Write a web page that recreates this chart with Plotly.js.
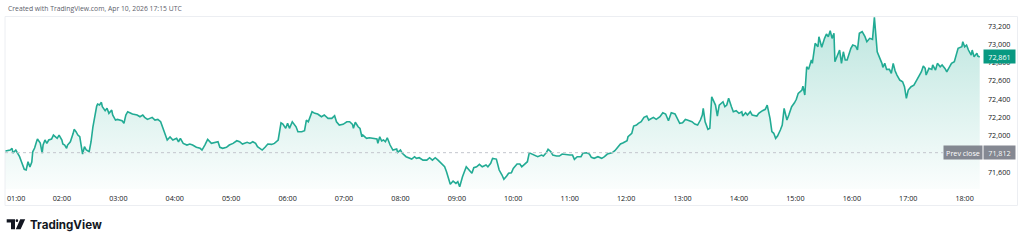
<!DOCTYPE html>
<html>
<head>
<meta charset="utf-8">
<script src="https://cdn.plot.ly/plotly-3.0.1.min.js"></script>
<style>
html,body{margin:0;padding:0;background:#fff;}
#chart{width:1024px;height:242px;}
</style>
</head>
<body>
<div id="chart"></div>
<script>
// ---- Data (minute of day, price) ----
const minuteOfDay = [
60,65,67,68,71,73,75,77,80,82,84,86,88,89,91,93,94,97,99,100,
102,104,106,109,111,115,117,120,121,123,125,126,129,132,133,135,137,139,141,142,
144,146,149,151,153,155,157,158,160,162,163,166,168,170,173,174,177,179,184,186,
188,190,193,195,200,203,206,208,211,216,219,222,225,227,229,232,
235,238,242,244,246,249,253,256,259,263,267,269,272,275,279,283,286,288,291,295,
298,302,306,309,312,317,320,323,326,328,333,336,339,343,346,350,351,353,355,358,
360,362,365,369,371,375,378,380,382,386,389,392,396,399,403,407,
410,412,415,419,423,426,429,430,432,435,437,439,440,444,447,451,455,456,458,460,
462,464,466,469,472,476,477,480,482,486,488,492,495,497,500,504,508,511,514,517,
520,524,527,529,531,533,536,539,541,543,546,548,550,553,556,558,561,564,567,571,
573,576,578,582,
585,588,590,593,595,598,600,604,607,609,612,615,617,620,623,626,630,632,635,637,
640,642,646,649,652,657,660,663,665,668,672,674,678,681,683,686,690,694,697,700,
705,708,711,714,717,721,722,724,726,728,731,733,736,739,742,744,747,749,752,
756,759,762,765,768,772,774,777,780,783,785,790,793,796,799,801,802,804,807,809,
811,813,815,817,819,823,825,827,829,832,834,837,840,843,844,847,849,852,854,859,
861,865,868,870,873,875,877,879,881,884,886,888,891,893,896,899,
901,903,907,908,910,912,914,917,918,921,924,925,928,931,933,935,937,939,941,942,
944,947,949,951,953,955,959,961,964,966,968,971,974,976,979,982,984,986,987,992,
993,995,997,1000,1002,1004,1006,1008,1011,1014,1016,1018,1020,1023,1026,1029,1031,1034,1036,1038,
1039,1042,1045,1046,1049,1051,1054,1056,1059,1061,1063,1066,1069,1071,1073,1077,1078,1080,1082,1084,
1087,1088,1090,1093,1094,1096
];
const price = [
71830,71841,71860,71808,71841,71808,71768,71713,71630,71622,71713,71655,71710,71822,71863,71932,71962,71918,71808,71896,
71951,71914,71951,71962,72005,71969,72005,71951,71907,71896,71860,71896,71932,72024,72068,72042,72005,71987,71877,71797,
71877,71841,71822,71932,72096,72225,72323,72345,72334,72364,72316,72272,72298,72243,72279,72225,72170,72177,72162,72134,
72225,72261,72243,72236,72225,72206,72225,72199,72177,72199,72170,72177,72151,72096,72024,71951,
71984,71951,71969,71932,71969,71914,71896,71907,71896,71871,71860,71841,71896,71958,71914,71921,71932,71871,71860,71871,
71896,71914,71943,71932,71907,71925,71914,71932,71914,71877,71841,71871,71907,71903,71914,71951,72024,72140,72126,72079,
72134,72079,72151,72096,72042,72042,72053,72170,72151,72261,72243,72236,72206,72225,72188,72188,
72217,72151,72115,72123,72151,72151,72123,72079,72145,72096,72079,71987,72005,71969,71976,71969,71962,71914,71987,71940,
71951,71932,71976,71896,71841,71852,71816,71841,71805,71768,71757,71742,71768,71750,71757,71731,71731,71757,71731,71757,
71731,71695,71658,71603,71531,71465,71501,71476,71494,71439,71548,71597,71658,71622,71586,71647,71658,71684,71658,71677,
71658,71695,71750,71742,
71622,71567,71520,71556,71586,71592,71640,71688,71688,71658,71688,71713,71811,71797,71775,71768,71786,71775,71811,71849,
71822,71786,71775,71775,71797,71786,71786,71786,71739,71768,71768,71805,71811,71797,71761,71750,71768,71750,71768,71797,
71811,71833,71877,71907,71921,71943,71987,72005,72024,72104,72115,72134,72151,72199,72214,72170,72188,72199,72177,
72206,72250,72236,72162,72250,72236,72199,72134,72140,72177,72170,72151,72126,72115,72170,72225,72298,72151,72068,72079,
72425,72370,72334,72214,72334,72370,72316,72334,72408,72316,72261,72272,72243,72261,72214,72250,72225,72261,72225,72214,
72243,72272,72287,72334,72188,72042,72024,71969,71994,72060,72115,72298,72170,72225,72316,72359,
72397,72462,72499,72542,72444,72754,72725,72827,72791,73010,72973,73083,72967,73065,73112,73083,73148,73065,73120,72809,
72864,72937,72791,72918,72827,72827,72956,72992,72981,72937,73120,73138,73083,73028,73065,73054,73295,73047,72918,72791,
72747,72791,72725,72725,72682,72791,72710,72663,72608,72590,72535,72408,72499,72535,72553,72608,72644,72699,72762,72736,
72663,72736,72725,72773,72718,72791,72754,72773,72736,72699,72736,72791,72809,72882,72956,72973,73028,72973,72992,72937,
72882,72937,72864,72901,72871,72861
];
const prevClose = 71812;
const lastPrice = 72861;
const xTickVals = [60,120,180,240,300,360,420,480,540,600,660,720,780,840,900,960,1020,1080];
const xTickText = ["01:00","02:00","03:00","04:00","05:00","06:00","07:00","08:00","09:00","10:00","11:00","12:00","13:00","14:00","15:00","16:00","17:00","18:00"];
const yTickVals = [71600,71800,72000,72200,72400,72600,72800,73000,73200];
const headerText = "Created with TradingView.com, Apr 10, 2026 17:15 UTC";
const brandText = "TradingView";

// ---- Layout helpers (pixel -> paper) ----
const L = 5, R = 44, T = 16, B = 53;
const PW = 1024 - L - R, PH = 242 - T - B;
const px = x => (x - L) / PW;
const py = y => (242 - B - y) / PH;

const fmt = v => v.toLocaleString('en-US');
const green = '#089981';
const lineGreen = '#22ab94';
const textDark = '#131722';
const tickFont = {family: 'Open Sans, sans-serif', size: 7.2, color: textDark};

const trace = {
  x: minuteOfDay, y: price, type: 'scatter', mode: 'lines',
  line: {color: lineGreen, width: 1.6},
  fill: 'tozeroy',
  fillgradient: {type: 'vertical', start: 71414, stop: 73300,
    colorscale: [[0, 'rgba(34,171,148,0.02)'], [1, 'rgba(34,171,148,0.3)']]},
  hoverinfo: 'skip'
};

function logoPath() {
  const P = (x, y) => px(x).toFixed(5) + ',' + py(y).toFixed(5);
  return 'M' + P(6.7, 219.3) + ' L' + P(15, 219.3) + ' L' + P(15, 229.3) + ' L' + P(11, 229.3) +
         ' L' + P(11, 222.5) + ' L' + P(6.7, 222.5) + ' Z' +
         ' M' + P(20.2, 219.3) + ' L' + P(25.2, 219.3) + ' L' + P(20.6, 229.3) + ' L' + P(15.8, 229.3) + ' Z';
}

const layout = {
  width: 1024, height: 242,
  margin: {l: L, r: R, t: T, b: B, pad: 0},
  paper_bgcolor: '#ffffff', plot_bgcolor: '#ffffff',
  showlegend: false,
  font: {family: 'Open Sans, sans-serif', color: textDark},
  xaxis: {
    range: [59.5, 1096.3], showgrid: false, zeroline: false, showline: false,
    ticks: '', tickvals: xTickVals.slice(1), ticktext: xTickText.slice(1),
    tickfont: tickFont, ticklabelstandoff: 4, fixedrange: true
  },
  yaxis: {
    range: [71414, 73310], side: 'right', showgrid: false, zeroline: false, showline: false,
    ticks: '', tickvals: yTickVals, ticktext: yTickVals.map(fmt),
    tickfont: tickFont, ticklabelstandoff: 7, fixedrange: true
  },
  shapes: [
    {type: 'rect', xref: 'paper', yref: 'paper', x0: px(5), x1: px(1017.5), y0: py(205.5), y1: py(16.5),
     line: {color: '#eceef2', width: 1}, fillcolor: 'rgba(0,0,0,0)', layer: 'below'},
    {type: 'line', xref: 'paper', yref: 'y', x0: 0, x1: px(943), y0: prevClose, y1: prevClose,
     line: {color: '#c3c6cd', width: 1, dash: 'dot'}},
    {type: 'path', xref: 'paper', yref: 'paper', path: logoPath(), fillcolor: textDark, line: {width: 0}},
    {type: 'circle', xref: 'paper', yref: 'paper', x0: px(15.6), x1: px(18.2), y0: py(222), y1: py(219.3),
     fillcolor: textDark, line: {width: 0}}
  ],
  annotations: [
    {text: headerText, xref: 'paper', yref: 'paper', x: px(6), y: py(8.5), xanchor: 'left', yanchor: 'middle',
     showarrow: false, font: {family: 'Open Sans, sans-serif', size: 6.8, color: '#5d606b'}},
    {text: xTickText[0], xref: 'x', yref: 'paper', x: xTickVals[0], y: py(198), xanchor: 'left', yanchor: 'middle',
     showarrow: false, font: tickFont},
    {text: '<b>' + brandText + '</b>', xref: 'paper', yref: 'paper', x: px(28), y: py(224.5), xanchor: 'left', yanchor: 'middle',
     showarrow: false, font: {family: 'Inter, sans-serif', size: 11.6, color: textDark}},
    {text: fmt(lastPrice), xref: 'paper', yref: 'y', x: px(999.5), y: lastPrice, xanchor: 'center', yanchor: 'middle',
     showarrow: false, bgcolor: green, borderpad: 1.5, width: 28,
     font: {family: 'Open Sans, sans-serif', size: 7.2, color: '#ffffff'}},
    {text: 'Prev close', xref: 'paper', yref: 'y', x: px(962.5), y: prevClose, xanchor: 'center', yanchor: 'middle',
     showarrow: false, bgcolor: 'rgba(120,123,134,0.9)', borderpad: 1.5, width: 35,
     font: {family: 'Open Sans, sans-serif', size: 7.2, color: '#ffffff'}},
    {text: fmt(prevClose), xref: 'paper', yref: 'y', x: px(999.5), y: prevClose, xanchor: 'center', yanchor: 'middle',
     showarrow: false, bgcolor: 'rgba(120,123,134,0.9)', borderpad: 1.5, width: 28,
     font: {family: 'Open Sans, sans-serif', size: 7.2, color: '#ffffff'}}
  ]
};

Plotly.newPlot('chart', [trace], layout, {displayModeBar: false, staticPlot: true});
</script>
</body>
</html>
